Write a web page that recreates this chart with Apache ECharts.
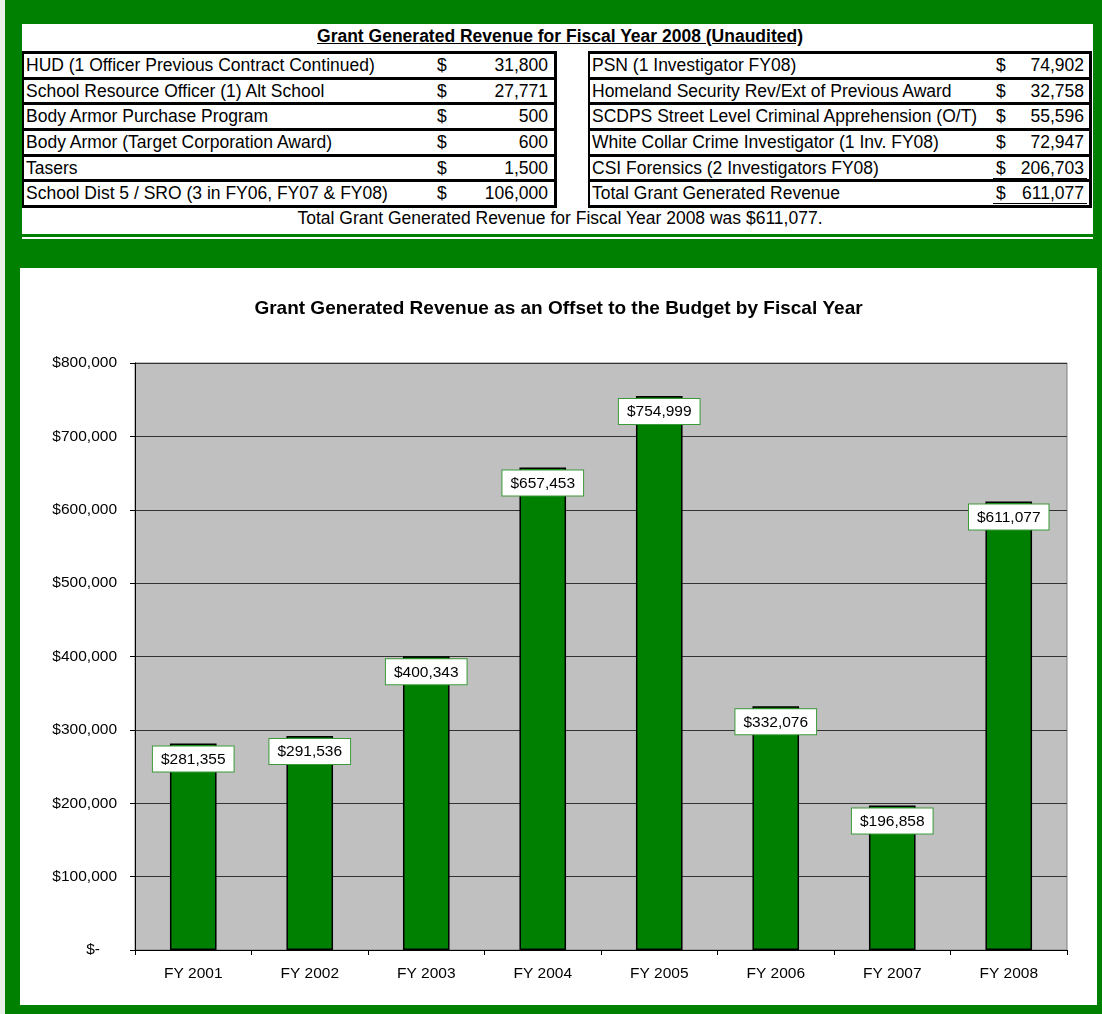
<!DOCTYPE html>
<html>
<head>
<meta charset="utf-8">
<script src="https://cdn.jsdelivr.net/npm/echarts@6/dist/echarts.min.js"></script>
<style>
  html, body { margin: 0; padding: 0; }
  body {
    width: 1102px; height: 1014px; background: #008000; position: relative;
    font-family: "Liberation Sans", Arial, sans-serif; color: #000; overflow: hidden;
  }
  #frameEdge { position: absolute; left: 0; top: 0; width: 5px; height: 1014px; background: #e8f0e8; }
  #tableBox { position: absolute; left: 22px; top: 24px; width: 1071px; height: 210px; background: #fff; }
  #sepLine { position: absolute; left: 22px; top: 237px; width: 1071px; height: 2px; background: #fff; }
  #tableTitle {
    position: absolute; left: 0; top: 2px; width: 1076px; text-align: center;
    font-weight: bold; font-size: 17.5px; text-decoration: underline;
  }
  .box {
    position: absolute; top: 27px; border-top: 3px solid #000; border-left: 2px solid #000;
    border-right: 3px solid #000; box-sizing: border-box;
  }
  .row {
    position: relative; height: 25.67px; border-bottom: 3px solid #000; box-sizing: border-box;
    font-size: 17.5px; line-height: 22px; white-space: nowrap;
  }
  .row .lab { position: absolute; left: 2px; top: 0; }
  .row .cur { position: absolute; top: 0; }
  .row .val { position: absolute; top: 0; text-align: right; }
  .row .ul { position: absolute; top: 0; height: 21px; }
  #totalLine { position: absolute; left: 0; top: 184px; width: 1076px; text-align: center; font-size: 17.5px; }
  #main { position: absolute; left: 20px; top: 268px; width: 1077px; height: 737px; background: #fff; }
</style>
</head>
<body>
<div id="frameEdge"></div>
<div id="tableBox">
  <div id="tableTitle">Grant Generated Revenue for Fiscal Year 2008 (Unaudited)</div>
  <div class="box" id="leftBox" style="left:0px; width:535px;"></div>
  <div class="box" id="rightBox" style="left:566px; width:504px;"></div>
  <div id="totalLine"></div>
</div>
<div id="sepLine"></div>
<div id="main"></div>
<script>
// top table
const leftLabels = [
  'HUD (1 Officer Previous Contract Continued)',
  'School Resource Officer (1) Alt School',
  'Body Armor Purchase Program',
  'Body Armor (Target Corporation Award)',
  'Tasers',
  'School Dist 5 / SRO (3 in FY06, FY07 & FY08)'
]
const leftValues = ['31,800', '27,771', '500', '600', '1,500', '106,000']
const rightLabels = [
  'PSN (1 Investigator FY08)',
  'Homeland Security Rev/Ext of Previous Award',
  'SCDPS Street Level Criminal Apprehension (O/T)',
  'White Collar Crime Investigator (1 Inv. FY08)',
  'CSI Forensics (2 Investigators FY08)',
  'Total Grant Generated Revenue'
]
const rightValues = ['74,902', '32,758', '55,596', '72,947', '206,703', '611,077']
const totalSentence = 'Total Grant Generated Revenue for Fiscal Year 2008 was $611,077.'

// chart
const fiscalYears = ['FY 2001', 'FY 2002', 'FY 2003', 'FY 2004', 'FY 2005', 'FY 2006', 'FY 2007', 'FY 2008']
const revenue = [281355, 291536, 400343, 657453, 754999, 332076, 196858, 611077]
const yTicks = [0, 100000, 200000, 300000, 400000, 500000, 600000, 700000, 800000]

function fillBox(el, labels, values, curX, valRight, underlines) {
  labels.forEach((lab, i) => {
    const row = document.createElement('div')
    row.className = 'row'
    let html = '<span class="lab">' + lab.replace(/&/g, '&amp;') + '</span>' +
      '<span class="cur" style="left:' + curX + 'px">$</span>' +
      '<span class="val" style="right:' + valRight + 'px">' + values[i] + '</span>'
    if (underlines && underlines[i]) {
      html += '<span class="ul" style="left:' + (curX - 3) + 'px; right:' + (valRight - 3) + 'px; border-bottom:' + underlines[i] + '"></span>'
    }
    row.innerHTML = html
    el.appendChild(row)
  })
}
fillBox(document.getElementById('leftBox'), leftLabels, leftValues, 413, 6)
fillBox(document.getElementById('rightBox'), rightLabels, rightValues, 406, 5,
  [null, null, null, null, '1px solid #000', '3px double #000'])
document.getElementById('totalLine').textContent = totalSentence

function money(v) {
  return '$' + v.toLocaleString('en-US')
}

const myChart = echarts.init(document.getElementById('main'))
myChart.setOption({
  animation: false,
  textStyle: { fontFamily: 'Liberation Sans, Arial, sans-serif' },
  title: {
    text: 'Grant Generated Revenue as an Offset to the Budget by Fiscal Year',
    left: 'center',
    top: 26,
    textStyle: { fontSize: 19, fontWeight: 'bold', color: '#000' }
  },
  grid: {
    left: 115,
    top: 95,
    right: 30,
    bottom: 55,
    show: true,
    backgroundColor: '#c0c0c0',
    borderColor: '#808080',
    borderWidth: 1
  },
  xAxis: {
    type: 'category',
    data: fiscalYears,
    axisLine: { lineStyle: { color: '#000', width: 1 } },
    axisTick: { show: true, alignWithLabel: false, length: 5, lineStyle: { color: '#000' } },
    axisLabel: { fontSize: 15.5, color: '#000', margin: 16 }
  },
  yAxis: {
    type: 'value',
    min: yTicks[0],
    max: yTicks[yTicks.length - 1],
    interval: yTicks[1] - yTicks[0],
    axisLine: { show: true, lineStyle: { color: '#000', width: 1 } },
    axisTick: { show: true, length: 5, lineStyle: { color: '#000' } },
    splitLine: { lineStyle: { color: '#333', width: 1 } },
    axisLabel: {
      fontSize: 15.5,
      color: '#000',
      margin: 18,
      formatter: v => v === 0 ? '{z|$-}' : money(v),
      rich: { z: { fontSize: 15.5, color: '#000', padding: [0, 17, 0, 0] } }
    }
  },
  series: [{
    type: 'bar',
    data: revenue,
    barWidth: '40%',
    itemStyle: { color: '#008000', borderColor: '#000', borderWidth: 1.5 },
    label: {
      show: true,
      position: 'insideTop',
      distance: 3,
      formatter: p => money(p.value),
      fontSize: 15.5,
      color: '#000',
      backgroundColor: '#fff',
      borderColor: '#3a9a3a',
      borderWidth: 1,
      padding: [5, 8, 4, 8]
    }
  }]
})
</script>
</body>
</html>
